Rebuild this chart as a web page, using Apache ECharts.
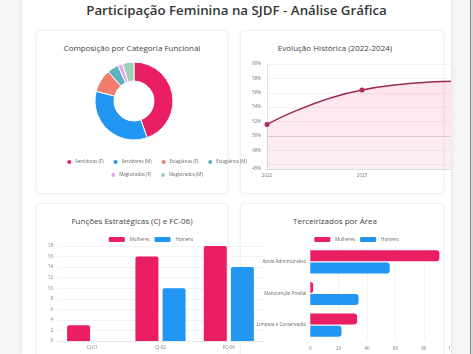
<!DOCTYPE html>
<html>
<head>
<meta charset="utf-8">
<script src="https://cdn.jsdelivr.net/npm/echarts@6/dist/echarts.min.js"></script>
<style>
body { margin:0; width:473px; height:354px; overflow:hidden; background:#f6f6f7; font-family:"Open Sans",sans-serif; }
#page { position:absolute; left:22px; top:0; width:429px; height:354px; background:#fff; overflow:hidden; box-shadow:0 0 5px rgba(0,0,0,0.10); }
#scroll { position:absolute; left:470px; top:0; width:3px; height:354px; background:#d6d6d6; border-left:1px solid #8a8a8a; }
.card { position:absolute; background:#fff; border:1px solid #f1f1f1; box-shadow:0 1px 4px rgba(0,0,0,0.05); border-radius:4px; }
.ttl { position:absolute; width:220px; text-align:center; font-size:8px; color:#444; white-space:nowrap; }
.chart { position:absolute; }
h1 { position:absolute; left:0; width:429px; top:0; margin:0; text-align:center; font-size:13.3px; font-weight:600; color:#363636; line-height:20px; }
</style>
</head>
<body>
<div id="page">
  <h1 style="left:-22px;width:473px;">Participação Feminina na SJDF - Análise Gráfica</h1>
  <div class="card" style="left:14px;top:30px;width:190px;height:162px;"></div>
  <div class="card" style="left:218px;top:30px;width:202px;height:162px;"></div>
  <div class="card" style="left:14px;top:203px;width:190px;height:170px;"></div>
  <div class="card" style="left:218px;top:203px;width:202px;height:170px;"></div>
  <div class="ttl" style="left:0px;top:42px;">Composição por Categoria Funcional</div>
  <div class="ttl" style="left:203px;top:42px;">Evolução Histórica (2022-2024)</div>
  <div class="ttl" style="left:0px;top:215px;">Funções Estratégicas (CJ e FC-06)</div>
  <div class="ttl" style="left:203px;top:215px;">Terceirizados por Área</div>
  <div id="pie" class="chart" style="left:14px;top:30px;width:240px;height:162px;"></div>
  <div id="line" class="chart" style="left:219px;top:30px;width:222px;height:162px;"></div>
  <div id="bar" class="chart" style="left:14px;top:203px;width:230px;height:160px;"></div>
  <div id="hbar" class="chart" style="left:232px;top:203px;width:205px;height:160px;"></div>
</div>
<div id="scroll"></div>
<script>
var categorias = ['Servidoras (F)', 'Servidores (M)', 'Estagiárias (F)', 'Estagiários (M)', 'Magistradas (F)', 'Magistrados (M)'];
var categoriaValores = [44.5, 34.5, 9.5, 4.7, 2, 4.8];
var categoriaCores = ['#e91e63', '#2196f3', '#f07b6e', '#5fb3bd', '#e3a6ef', '#9fcfb7'];

var anos = ['2022', '2023', '2024'];
var participacao = [51.6, 56.4, 57.6];

var funcoes = ['CJ-01', 'CJ-02', 'FC-06'];
var funcoesMulheres = [3, 16, 18];
var funcoesHomens = [0, 10, 14];

var areas = ['Apoio Administrativo', 'Manutenção Predial', 'Limpeza e Conservação'];
var areasMulheres = [91, 2, 33];
var areasHomens = [56, 34, 22];

var corMulheres = '#e91e63';
var corHomens = '#2196f3';
var fonte = '"Open Sans", sans-serif';

// donut
var pieChart = echarts.init(document.getElementById('pie'));
var pieData = [];
for (var i = 0; i < categorias.length; i++) {
	pieData.push({ name: categorias[i], value: categoriaValores[i], itemStyle: { color: categoriaCores[i] } });
}
pieChart.setOption({
	animation: false,
	legend: [{
		data: categorias.slice(0, 4),
		top: 128, left: 'center', padding: 0,
		icon: 'circle', itemWidth: 6, itemHeight: 6, itemGap: 8,
		textStyle: { fontSize: 4.5, color: '#666', fontFamily: fonte, padding: [0, 0, 0, -2] }
	}, {
		data: categorias.slice(4),
		top: 141, left: 'center', padding: 0,
		icon: 'circle', itemWidth: 6, itemHeight: 6, itemGap: 8,
		textStyle: { fontSize: 4.5, color: '#666', fontFamily: fonte, padding: [0, 0, 0, -2] }
	}],
	series: [{
		type: 'pie',
		center: [98, 71],
		radius: [20, 39],
		label: { show: false },
		labelLine: { show: false },
		itemStyle: { borderColor: '#fff', borderWidth: 1 },
		data: pieData
	}]
});

// linha
var lineChart = echarts.init(document.getElementById('line'));
lineChart.setOption({
	animation: false,
	grid: { left: 26, right: 6, top: 34, bottom: 23 },
	xAxis: {
		type: 'category', data: anos, boundaryGap: false,
		axisLine: { lineStyle: { color: '#ddd' } },
		axisTick: { show: false },
		axisLabel: { fontSize: 4.5, color: '#777', fontFamily: fonte, margin: 4, showMaxLabel: false }
	},
	yAxis: {
		type: 'value', min: 45.4, max: 60, splitNumber: 7,
		axisLine: { show: true, lineStyle: { color: '#e2e2e2' } },
		splitLine: { lineStyle: { color: '#f2f2f2' } },
		axisLabel: { fontSize: 4.5, color: '#777', fontFamily: fonte, margin: 6, showMinLabel: true,
			formatter: function (v) { return Math.floor(v) + '%'; } }
	},
	series: [{
		type: 'line', data: participacao, smooth: true,
		symbol: 'circle', symbolSize: 5,
		lineStyle: { color: '#9c2b52', width: 1.5 },
		itemStyle: { color: '#b8285a' },
		areaStyle: { color: new echarts.graphic.LinearGradient(0, 0, 0, 1, [
			{ offset: 0, color: 'rgba(233,30,99,0.17)' },
			{ offset: 1, color: 'rgba(233,30,99,0.10)' }]) },
		markLine: {
			silent: true, symbol: 'none', label: { show: false },
			lineStyle: { color: '#d9c9ce', type: 'solid', width: 1 },
			data: [{ yAxis: 50 }]
		}
	}]
});

// barras verticais
var barChart = echarts.init(document.getElementById('bar'));
barChart.setOption({
	animation: false,
	legend: {
		top: 34, left: 'center', padding: 0, itemWidth: 16, itemHeight: 5, itemGap: 5,
		textStyle: { fontSize: 4.5, color: '#666', fontFamily: fonte }
	},
	grid: { left: 22, right: 3, top: 43, bottom: 22 },
	xAxis: {
		type: 'category', data: funcoes,
		axisLine: { lineStyle: { color: '#e6e6e6' } },
		axisTick: { show: false },
		axisLabel: { fontSize: 4.5, color: '#777', fontFamily: fonte, margin: 4 }
	},
	yAxis: {
		type: 'value', min: 0, max: 18, interval: 2,
		splitLine: { lineStyle: { color: '#f3f3f3' } },
		axisLabel: { fontSize: 4.5, color: '#777', fontFamily: fonte, margin: 5 }
	},
	series: [{
		name: 'Mulheres', type: 'bar', data: funcoesMulheres, barWidth: 23, barGap: '18%',
		itemStyle: { color: corMulheres, borderRadius: [2, 2, 0, 0] }
	}, {
		name: 'Homens', type: 'bar', data: funcoesHomens, barWidth: 23,
		itemStyle: { color: corHomens, borderRadius: [2, 2, 0, 0] }
	}]
});

// barras horizontais
var hbarChart = echarts.init(document.getElementById('hbar'));
hbarChart.setOption({
	animation: false,
	legend: {
		top: 34, left: 'center', padding: 0, itemWidth: 16, itemHeight: 5, itemGap: 5,
		textStyle: { fontSize: 4.5, color: '#666', fontFamily: fonte }
	},
	grid: { left: 52, right: 0, top: 43, bottom: 22 },
	xAxis: {
		type: 'value', min: 0, max: 100, interval: 20,
		splitLine: { lineStyle: { color: '#f3f3f3' } },
		axisLabel: { fontSize: 4.5, color: '#777', fontFamily: fonte, margin: 5 }
	},
	yAxis: {
		type: 'category', data: areas, inverse: true,
		axisLine: { show: false }, axisTick: { show: false },
		axisLabel: { fontSize: 4.5, color: '#666', fontFamily: fonte, margin: 4 }
	},
	series: [{
		name: 'Mulheres', type: 'bar', data: areasMulheres, barWidth: 11, barGap: '10%',
		itemStyle: { color: corMulheres, borderRadius: [0, 3, 3, 0] }
	}, {
		name: 'Homens', type: 'bar', data: areasHomens, barWidth: 11,
		itemStyle: { color: corHomens, borderRadius: [0, 3, 3, 0] }
	}]
});
</script>
</body>
</html>
